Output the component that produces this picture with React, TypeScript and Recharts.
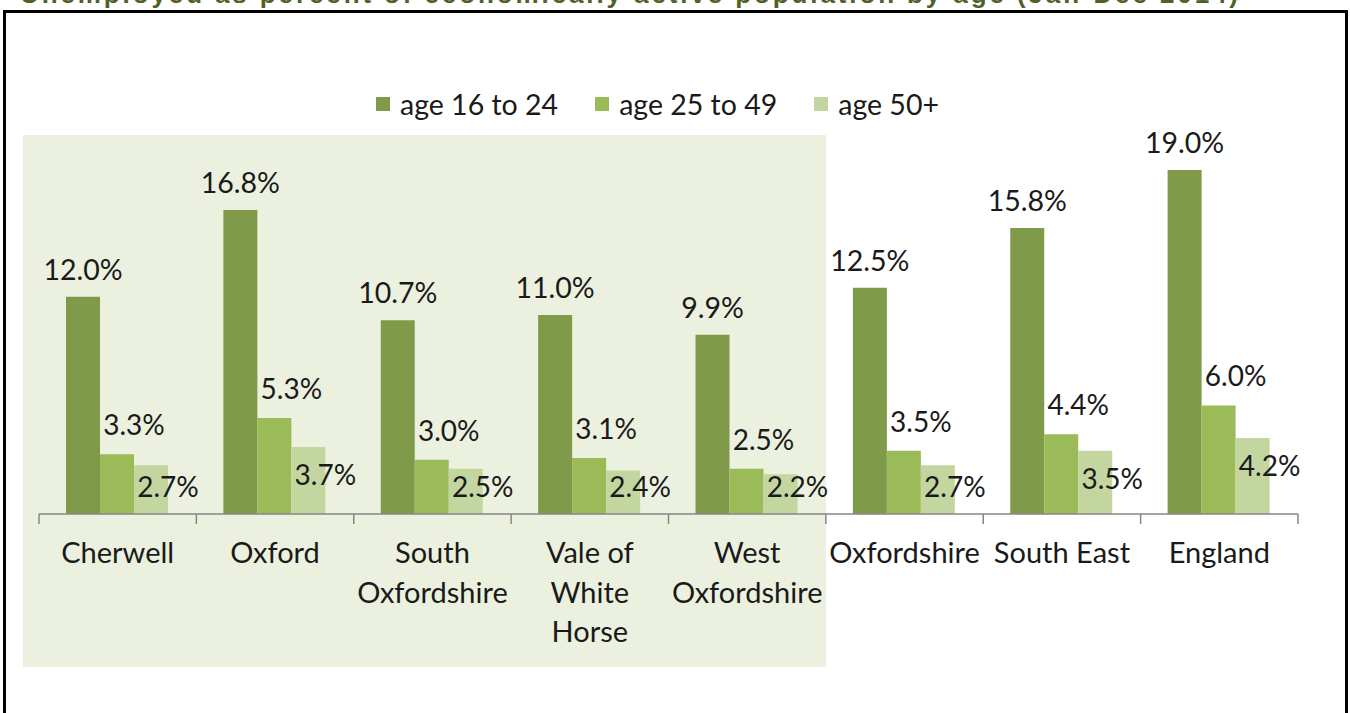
import { BarChart, Bar, XAxis, YAxis, LabelList } from 'recharts';

const categories = [
  'Cherwell', 'Oxford', 'South Oxfordshire', 'Vale of White Horse',
  'West Oxfordshire', 'Oxfordshire', 'South East', 'England',
];
const tickLines = [
  ['Cherwell'], ['Oxford'], ['South', 'Oxfordshire'], ['Vale of', 'White', 'Horse'],
  ['West', 'Oxfordshire'], ['Oxfordshire'], ['South East'], ['England'],
];
const age16to24 = [12.0, 16.8, 10.7, 11.0, 9.9, 12.5, 15.8, 19.0];
const age25to49 = [3.3, 5.3, 3.0, 3.1, 2.5, 3.5, 4.4, 6.0];
const age50plus = [2.7, 3.7, 2.5, 2.4, 2.2, 2.7, 3.5, 4.2];
const seriesNames = ['age 16 to 24', 'age 25 to 49', 'age 50+'];
const seriesColors = ['#7F9A48', '#9BBB59', '#C4D6A0'];
const title = 'Unemployed as percent of economically active population by age (Jan-Dec 2014)';

const W = 1350;
const H = 713;
const M = { top: 152, right: 52, left: 39, bottom: 0 };
const X_AXIS_H = 199;
const AXIS_Y = H - M.bottom - X_AXIS_H;
const BAND = (W - M.left - M.right) / categories.length;
const FONT = 'Lato, "Open Sans", sans-serif';
const TEXT = '#1A1A1A';
const AXIS_COLOR = '#868686';

const data = categories.map((name, i) => ({
  name,
  young: age16to24[i],
  mid: age25to49[i],
  old: age50plus[i],
}));

const fmt = (v: number) => `${v.toFixed(1)}%`;

function CategoryTick(props: any) {
  const { x, payload } = props;
  const i = categories.indexOf(payload.value);
  const lines = tickLines[i] ?? [payload.value];
  const left = x - BAND / 2;
  return (
    <g>
      <line x1={left} x2={left} y1={AXIS_Y} y2={AXIS_Y + 10} stroke={AXIS_COLOR} strokeWidth={1.5} />
      {i === categories.length - 1 && (
        <line x1={left + BAND} x2={left + BAND} y1={AXIS_Y} y2={AXIS_Y + 10} stroke={AXIS_COLOR} strokeWidth={1.5} />
      )}
      <text x={x} y={AXIS_Y + 49} textAnchor="middle" fontSize={29} fill={TEXT} fontFamily={FONT}>
        {lines.map((l, k) => (
          <tspan key={k} x={x} dy={k === 0 ? 0 : 39.5}>{l}</tspan>
        ))}
      </text>
    </g>
  );
}

// label above the dark bar, centred on it
const youngLabel = (p: any) => (
  <text x={p.x + p.width / 2} y={p.y - 17} textAnchor="middle" fontSize={28.5} fill={TEXT} fontFamily={FONT}>
    {fmt(p.value)}
  </text>
);

// label above the mid bar, centred on its right edge
const midLabel = (p: any) => (
  <text x={p.x + p.width} y={p.y - 19} textAnchor="middle" fontSize={28} fill={TEXT} fontFamily={FONT}>
    {fmt(p.value)}
  </text>
);

// label overlapping the light bar top
const oldLabel = (p: any) => {
  const cy = Math.min(p.y + 28, p.y + p.height - 27);
  return (
    <text x={p.x + p.width} y={cy + 10} textAnchor="middle" fontSize={28} fill={TEXT} fontFamily={FONT}>
      {fmt(p.value)}
    </text>
  );
};

export default function App() {
  return (
    <div style={{ position: 'absolute', left: 0, top: 0, width: W, height: H, overflow: 'hidden', background: '#fff' }}>
      <svg width={W} height={12} style={{ position: 'absolute', left: 0, top: 0 }}>
        <text x={20} y={2.5} fontSize={26} fontWeight="bold" fill="#4F6228"
          fontFamily="'Liberation Sans', Arial, sans-serif" textLength={1218} lengthAdjust="spacing">
          {title}
        </text>
      </svg>
      <div style={{
        position: 'absolute', left: 3, top: 10, width: 1345, height: 740,
        boxSizing: 'border-box', border: '3px solid #000',
      }} />
      <div style={{ position: 'absolute', left: 23, top: 135, width: 803, height: 532, background: '#EBF1DE' }} />
      <div style={{
        position: 'absolute', left: 376, top: 87, display: 'flex', alignItems: 'center',
        fontFamily: FONT, fontSize: 28.5, color: TEXT, whiteSpace: 'nowrap',
      }}>
        {seriesNames.map((n, i) => (
          <div key={n} style={{ display: 'flex', alignItems: 'center', marginRight: 37 }}>
            <span style={{ width: 14, height: 14, background: seriesColors[i], marginRight: 10, display: 'inline-block' }} />
            <span>{n}</span>
          </div>
        ))}
      </div>
      <div style={{ position: 'absolute', left: 0, top: 0 }}>
        <BarChart width={W} height={H} data={data} margin={M} barCategoryGap={27} barGap={0}>
          <XAxis
            dataKey="name"
            height={X_AXIS_H}
            interval={0}
            tickLine={false}
            axisLine={{ stroke: AXIS_COLOR, strokeWidth: 1.5 }}
            tick={<CategoryTick />}
          />
          <YAxis hide width={0} domain={[0, 20]} />
          <Bar dataKey="young" name={seriesNames[0]} fill={seriesColors[0]} isAnimationActive={false}>
            <LabelList dataKey="young" content={youngLabel} />
          </Bar>
          <Bar dataKey="mid" name={seriesNames[1]} fill={seriesColors[1]} isAnimationActive={false}>
            <LabelList dataKey="mid" content={midLabel} />
          </Bar>
          <Bar dataKey="old" name={seriesNames[2]} fill={seriesColors[2]} isAnimationActive={false}>
            <LabelList dataKey="old" content={oldLabel} />
          </Bar>
        </BarChart>
      </div>
    </div>
  );
}
